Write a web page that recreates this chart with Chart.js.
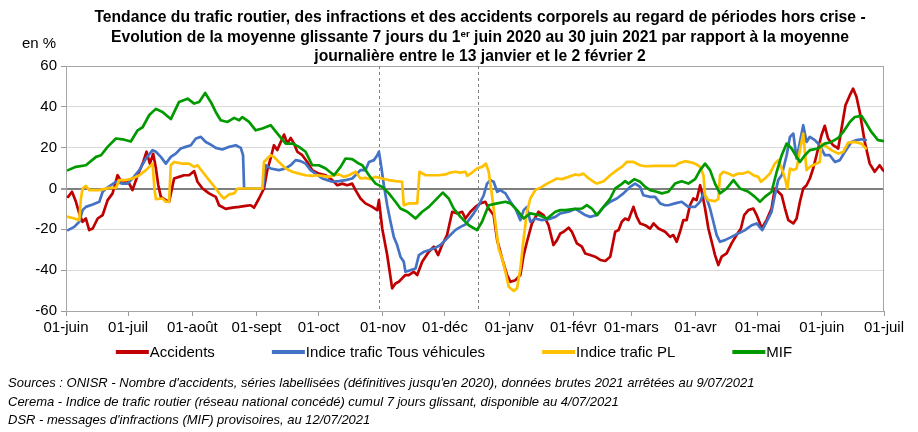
<!DOCTYPE html>
<html lang="fr">
<head>
<meta charset="utf-8">
<script src="https://cdn.jsdelivr.net/npm/chart.js@4.4.1/dist/chart.umd.min.js"></script>
<style>
html,body{margin:0;padding:0;background:#fff;}
#wrap{position:relative;width:918px;height:432px;overflow:hidden;font-family:"Liberation Sans",Arial,sans-serif;color:#000;}
#c{position:absolute;left:0;top:0;}
#title{position:absolute;left:40px;width:880px;top:7px;text-align:center;font-weight:bold;font-size:15.7px;line-height:19.5px;white-space:nowrap;}
#title sup{font-size:0.62em;line-height:0;vertical-align:0.55em;}
#unit{position:absolute;left:22px;top:34px;font-size:15px;line-height:17px;}
#src{position:absolute;left:8px;top:374px;font-style:italic;font-size:13px;line-height:18.5px;white-space:nowrap;}
</style>
</head>
<body>
<div id="wrap">
<canvas id="c" width="918" height="432"></canvas>
<div id="title">Tendance du trafic routier, des infractions et des accidents corporels au regard de périodes hors crise -<br>Evolution de la moyenne glissante 7 jours du 1<sup>er</sup> juin 2020 au 30 juin 2021 par rapport à la moyenne<br>journalière entre le 13 janvier et le 2 février 2</div>
<div id="unit">en %</div>
<div id="src">Sources : ONISR - Nombre d'accidents, séries labellisées (définitives jusqu'en 2020), données brutes 2021 arrêtées au 9/07/2021<br>Cerema - Indice de trafic routier (réseau national concédé) cumul 7 jours glissant, disponible au 4/07/2021<br>DSR - messages d'infractions (MIF) provisoires, au 12/07/2021</div>
</div>
<script>
// x values are days since 1 June 2020
const monthDays = [0,30,61,92,122,153,183,214,245,273,304,334,365,395];
const monthLabels = ["01-juin","01-juil","01-août","01-sept","01-oct","01-nov","01-déc","01-janv","01-févr","01-mars","01-avr","01-mai","01-juin","01-juil"];
const markerDays = [151,199];
const seriesLabels = ["Accidents","Indice trafic Tous véhicules","Indice trafic PL","MIF"];

const accDays = [1,2.9,4.8,6.4,8,9.6,11.2,12.9,15.3,17.7,20.1,22.5,24.9,27.3,29.7,32.1,34.6,37,38.9,40.5,42.1,43.4,44.5,45.8,48.2,49.8,52.2,54.6,57,59.4,61.9,63.5,65.9,69.1,72.3,73.9,77.1,80.4,83.6,86.8,89.2,90.8,93.2,95.6,97.2,98.8,100.4,102,103.7,105.3,106.9,108.5,110.1,111.7,114.1,116.5,118.9,122.1,125.4,128.6,131,133.4,135.8,138.2,139.8,142.2,144.6,147.9,150.3,151.1,152.7,155.1,157.5,159.1,160.7,162.3,163.9,165.5,167.9,169.6,172,175.2,177.6,179.7,181.6,184,186.5,188.9,191.3,192.9,195.3,197.7,200.1,202.5,204.1,206.5,208.2,210.6,213,214.6,217,219.4,221,222.6,225,228.2,230.6,233,235.4,237.1,238.7,240.3,242.7,244.3,246.7,249.1,250.7,253.1,255.5,258,260.4,262.8,265.2,266.8,268.4,270,271.6,274,275.6,277.2,279.7,282.1,283.7,286.1,289.3,291.7,293.3,294.9,296.5,298.1,299.7,301.3,302.9,304.5,306.2,307,308.6,310.2,311.8,313.4,315,316.6,319,321.4,323.8,325.9,327.5,329.5,331.9,333.5,335.1,335.9,338.3,340.7,342.3,343.9,345.6,347.2,348.8,351.2,352.8,354.4,356,357.6,359.2,360.8,362.4,364.8,366.4,368,370.4,372.9,374.5,376.4,378.5,380.1,381.7,383.3,385.7,388.1,390.5,392.9,394.5,395];
const accValues = [-4.1,-1.6,-6.5,-12.2,-16.3,-14.7,-20.4,-19.6,-14.7,-13,-5.7,-2.4,6.5,2.4,4.1,-0.8,6.5,12.2,18,12.2,17,10,2,-4.1,-5.7,-6.5,4.9,5.7,6.5,6.5,8.5,3.3,0,-2.4,-4.1,-8.2,-10,-9.4,-9,-8.5,-8.2,-9.4,-4.9,0,9,14.7,21.2,18.8,22.8,26.4,22,24.8,22,18,16.3,13,9,7.3,6.5,4.1,1.6,2.4,1.6,2.4,-0.8,-4.9,-7.3,-9,-10.6,-5.7,-19.6,-32.6,-48.9,-46.5,-45.7,-44,-42.4,-42.4,-40.8,-42.4,-35.9,-31,-28.5,-32.6,-27.7,-22.8,-11.4,-12.2,-11.4,-14.7,-11.4,-9,-7.3,-6.5,-9.8,-13,-25.3,-34.3,-42.4,-45.7,-44.9,-42.4,-32.6,-26.1,-17.1,-11.4,-13,-18,-27.7,-25.3,-22,-21.2,-19.2,-21.2,-26.9,-28.5,-31.8,-32.6,-33.4,-35,-35.5,-33.4,-21.2,-20.4,-16.3,-14.7,-15.5,-9,-13.9,-17.1,-18,-19.6,-17.1,-19.6,-21.2,-23.7,-22.8,-26.1,-21.2,-15.5,-15.5,-8.2,-4.9,-5.7,1.6,-1.6,-9.8,-19.6,-26.1,-32.6,-37.5,-33.4,-31.8,-26.9,-22.8,-19.6,-13,-10.6,-9.8,-13,-17.1,-19.6,-15.5,-9.8,0,-1.6,-3.3,-9.8,-15.5,-17.1,-14.7,-6.5,0,1.6,4.9,9.8,16.3,26.1,30.7,24.5,21.2,19.6,29.4,40.8,45.7,48.9,44.9,37.5,22.8,12.2,8.2,11.4,9,8.5];

const totDays = [1,4,6.4,8,9.6,12.9,16.1,17.7,19.3,24.1,27.3,29.7,32.1,35.4,38.6,41.8,43.4,45.8,48.2,50.6,53,55.4,57.8,60.3,62.7,65.1,67.5,69.9,72.3,75.5,78.8,82,84.4,85.5,86,95.1,96.4,98.8,102.8,106.1,108.5,110.9,113.3,115.7,118.1,120.5,123.8,126.2,128.6,131.8,135,138.2,140.6,142.2,144.6,146.3,148.7,150.3,151.1,151.9,153.5,155.1,156.7,158.3,159.9,161.5,163.1,163.9,166.3,168.8,170.4,172.8,175.2,178.4,180.8,183.2,185.6,188,190.5,192.9,194.5,196.9,199.3,201.7,203.3,204.9,206.5,208.2,209.7,212.2,214.6,217,219.4,221,222.6,224.2,226.6,229.8,233,236.3,238.7,242.7,245.9,248.3,250.7,253.1,256.4,259.6,262.8,266,269.2,272.4,274.8,277.2,278.8,282.1,284.5,286.9,289.3,290.9,294.1,297.3,300.5,303.8,306.2,307.8,309.4,311,312.6,314.2,315.8,318.2,321.4,324.6,327.9,331.1,333.5,335.6,336.2,338.3,340.7,342.3,343.9,345.6,348,349.6,351.2,352.8,354.4,356,357.6,359.2,361.6,364,366.4,368.8,371.3,373.7,376.1,379.3,381.7,384.1,386.2];
const totValues = [-20.4,-18.8,-16.3,-10.6,-9,-7.8,-6.5,-1.6,0,3.3,2.4,2.4,4.9,9,14.7,18.8,18,15.5,12.2,15.5,17.1,19.6,20.4,21.2,24.5,25.3,22.8,21.5,19.9,19.1,20.4,21.2,19.9,16.3,0,0,11.4,9.8,9,9.8,11.4,13.9,13.4,12.2,9,7.3,4.9,4.1,3.3,3.6,4.1,4.9,7.3,9,9,13,13.9,16.3,18,13,1.6,-8.2,-16.3,-23.7,-27.7,-33.4,-35.9,-40.8,-40,-39.2,-32.6,-31,-30.2,-29,-27.7,-25.3,-22.8,-20.4,-18.8,-17.6,-15.5,-12.2,-8.2,-3.3,2.4,4.1,3.3,-1.6,-0.8,-2.4,-6.5,-9.8,-15.5,-10.6,-9,-16.3,-14.7,-15.5,-15,-13.9,-12.2,-11.4,-10,-11.4,-13,-13.9,-13,-9,-6.5,-4.9,-2.4,0.8,2.4,0.8,-3.3,-4.1,-4.1,-7.3,-8.2,-8.2,-7.3,-6.5,-9,-9,-6.5,-2.4,-4.9,-9.8,-16.3,-22.8,-26.1,-25.3,-23.7,-22,-20.4,-18,-17.1,-19.6,-20.4,-16.3,-11.4,-3.3,4.1,6.5,16.3,25.3,26.9,14.7,22.8,31,22.8,25.3,23.7,21.2,16.3,16.3,13,13.9,18,22.8,23.7,24.1,23.7];

const plDays = [1,4,6.4,7.2,8,9.6,11.2,16.1,20.9,24.1,25.7,28.9,32.1,35.4,38.6,41.8,42.7,43.4,46.6,48.2,49.8,50.6,52.2,56.2,59.4,61.9,63.5,65.9,69.1,72.3,74.7,76.3,78.8,81.2,82.8,94.8,95.6,98.8,100.4,102.8,106.1,109.3,112.5,115.7,118.9,121.3,123.8,127,129.4,131.8,134.2,136.6,139.8,142.2,144.6,147,149.5,152.7,155.9,159.1,162.3,163.1,165.5,169.6,170.7,173.6,176.8,180,183.2,185.6,188,190.5,192.9,193.7,196.1,198.5,200.9,202.8,204.1,205.7,207.3,208.9,210.6,212.2,213.8,216.2,217.8,219.4,221,222.6,224.2,226.6,229.8,232.3,234.7,237.1,239.5,242.7,245.9,247.5,249.9,251.5,254.7,256.4,259.6,262.8,266,268.4,270.8,274,277.2,279.7,284.5,289.3,294.1,295.7,298.9,302.2,304.5,306.2,307.8,308.6,310.2,313.4,315,315.8,317.4,319.8,322.2,324.6,327,329.5,331.9,334.3,335.6,337.5,339.9,342.3,343.9,345.6,347.2,348.3,349.6,351.2,352.8,354.4,356,357.6,359.2,360.8,362.4,364,364.8,367.4,369.6,372.9,375.3,377.7,380.9,384.1,386.2];
const plValues = [-13.9,-14.7,-15.5,-4.9,0,1.3,-0.8,-0.8,0.3,0.3,4.1,4.1,4.9,6.5,9,12.2,0,-5.2,-4.9,-6.5,-6.5,11.4,13,12.2,12.2,10.6,11.4,8.2,4.1,0,-3.3,-4.9,-2.9,-2.4,0,0,13,16.3,15.5,13,9.8,8.2,7.3,6.5,6.2,6.5,6.2,5.7,6.5,6.9,5.7,6.5,8.2,4.9,5.2,4.6,5.7,4.9,4.1,3.6,3.3,-8.2,-7.3,-7.3,8.2,6.5,6.5,6.5,6.9,7.8,8.2,7.8,8.2,6.2,7.8,9.8,10.6,12.2,8.2,-3.3,-16.3,-29.4,-34.3,-40.8,-48.1,-50.2,-48.9,-39.2,-24.5,-11.4,-4.9,-0.8,0.8,2.4,3.6,4.9,4.6,5.7,6.9,6.5,7.3,5.7,3.3,2.4,3.6,6.5,9,10.6,13,13,11.4,10.9,11.1,11.1,11.1,12.2,13.4,12.7,11.7,10.6,6.5,-3.3,-5.7,-6.2,-5.2,6.5,8.2,7.3,6.2,7.3,7.3,8.2,6.5,5.7,3.3,4.9,7.3,12.2,13.9,9.8,4.9,0,9.8,9,9.8,18.8,26.9,9,10.6,11.4,12.2,13,22,20.4,18.8,17.1,17.9,22.5,22.8,22,19.6];

const mifDays = [1,4.8,9.6,14.5,16.9,20.1,24.1,27.3,31.3,34.6,37,40.2,43.4,46.6,50.6,54.6,58.7,61.9,64.3,67.2,69.9,72.3,74.7,78,81.2,83.6,85.2,88.4,91.6,94.8,98.8,102.8,106.1,109.3,112.5,115.7,118.9,122.1,125.4,129.4,132.6,135,138.2,141.4,143.1,146.3,149.5,152.7,155.9,159.1,161.5,164.8,168.8,172,175.2,178.4,181.9,184.8,187.2,190.5,194.5,198.5,200.9,204.1,208.2,212.2,214.6,217.8,221,224.2,228.2,232.3,236.3,238.7,241.1,245.9,249.1,251.5,253.9,256.4,259.6,262.8,265.2,267.6,270,271.6,274.5,277.2,279.7,282.1,285.3,287.7,290.9,294.1,297.3,300.5,303.8,306.2,308.6,311,313.4,315.8,319,322.3,325.5,329.5,332.7,335.1,337.5,340.7,343.2,345.6,348,350.4,352.8,354.4,356.8,359.2,363.2,366.4,369.6,372.9,375.3,378.5,380.9,384.1,386.5,388.9,392.1,395];
const mifValues = [9,10.6,11.4,15.5,16.3,20.4,24.5,24.1,23,28.5,30,36,39,37.5,34,42.4,44,41.6,42.4,46.8,42.4,37.5,33.4,32.6,34.6,33.4,35,32.6,28.5,29.4,31,26,22,22,20.4,18,11.4,11.4,9.8,6.5,10.6,14.7,14.4,12.2,11.4,6.5,2.4,0.8,-2.4,-6.5,-9.8,-11.4,-14.7,-11.4,-9,-5.7,-2,-4.9,-9.8,-13.9,-18,-20.4,-16.3,-8.2,-7.3,-6.5,-7.3,-10.6,-14.7,-12.2,-13,-14.7,-11.4,-10.6,-10.6,-10,-9.8,-8.2,-9.8,-13,-9,-4.9,0,1.6,3.6,2.4,4.6,3.3,0.8,-0.8,-1.6,-2.4,-1.6,2.4,3.6,2.4,4.6,9,12.2,9,2.4,-2.4,0,4.1,0,-1.6,-4.1,-6.5,-4.1,-1.6,8.2,16.3,22,19.6,15.5,13,16.3,18.8,19.6,22,22.8,24.8,27.7,32.6,35,35.6,31.8,27.7,23.7,23.2];

const colors = ["#C00000","#4472C4","#FFC000","#009A00"];
const FONT = '"Liberation Sans", Arial, sans-serif';
const toPoints = (d, v) => d.map((x, i) => ({x: x, y: v[i]}));

const frame = {
  id: 'frame',
  beforeDatasetsDraw(chart) {
    const {ctx, chartArea: a, scales: {x}} = chart;
    ctx.save();
    ctx.strokeStyle = '#a6a6a6';
    ctx.lineWidth = 1;
    ctx.strokeRect(a.left + 0.5, a.top + 0.5, a.right - a.left - 1, a.bottom - a.top);
    ctx.strokeStyle = '#7f7f7f';
    ctx.setLineDash([3, 3]);
    markerDays.forEach(d => {
      const px = Math.round(x.getPixelForValue(d)) + 0.5;
      ctx.beginPath(); ctx.moveTo(px, a.top); ctx.lineTo(px, a.bottom); ctx.stroke();
    });
    ctx.restore();
  }
};

const legendLine = {
  id: 'legendLine',
  afterDraw(chart) {
    const ctx = chart.ctx;
    const ds = chart.data.datasets;
    ctx.save();
    ctx.font = '15px ' + FONT;
    const lineLen = 33, gap = 57, textGap = 1, cy = 352, center = 454;
    const widths = ds.map(d => lineLen + textGap + ctx.measureText(d.label).width);
    const total = widths.reduce((s, w) => s + w, 0) + gap * (ds.length - 1);
    let xx = center - total / 2;
    ds.forEach((d, i) => {
      ctx.fillStyle = d.borderColor;
      ctx.fillRect(xx, cy - 2, lineLen, 4);
      ctx.fillStyle = '#000';
      ctx.textBaseline = 'middle';
      ctx.textAlign = 'left';
      ctx.fillText(d.label, xx + lineLen + textGap, cy + 1);
      xx += widths[i] + gap;
    });
    ctx.restore();
  }
};

const seriesDays = [accDays, totDays, plDays, mifDays];
const seriesValues = [accValues, totValues, plValues, mifValues];

new Chart(document.getElementById('c'), {
  type: 'line',
  data: {
    datasets: seriesLabels.map((lab, i) => ({
      label: lab,
      data: toPoints(seriesDays[i], seriesValues[i]),
      borderColor: colors[i],
      backgroundColor: colors[i],
      borderWidth: 2.7,
      pointRadius: 0,
      tension: 0,
      borderJoinStyle: 'round',
      borderCapStyle: 'round',
      order: 3 - i
    }))
  },
  options: {
    responsive: false,
    animation: false,
    parsing: true,
    layout: {padding: {left: 0, top: 66, right: 34, bottom: 91}},
    plugins: {legend: {display: false}, tooltip: {enabled: false}, title: {display: false}},
    scales: {
      x: {
        type: 'linear', min: 0, max: 395,
        afterBuildTicks: s => { s.ticks = monthDays.map(v => ({value: v})); },
        afterFit: s => { s.height = 30; },
        ticks: {autoSkip: false, maxRotation: 0, minRotation: 0, padding: 3, color: '#000',
          font: {family: FONT, size: 15}, callback: (v, i) => monthLabels[i]},
        grid: {drawOnChartArea: false, tickLength: 5, color: '#999', tickColor: '#999'},
        border: {color: '#999', width: 1}
      },
      y: {
        min: -60, max: 60,
        afterFit: s => { s.width = 66; },
        ticks: {stepSize: 20, padding: 4, color: '#000', font: {family: FONT, size: 15}},
        grid: {
          color: c => c.tick.value === 0 ? '#7f7f7f' : (c.tick.value === 60 ? '#a6a6a6' : '#d9d9d9'),
          lineWidth: c => c.tick.value === 0 ? 2 : 1,
          tickLength: 5, tickColor: '#999'
        },
        border: {color: '#999', width: 1}
      }
    }
  },
  plugins: [frame, legendLine]
});
</script>
</body>
</html>
